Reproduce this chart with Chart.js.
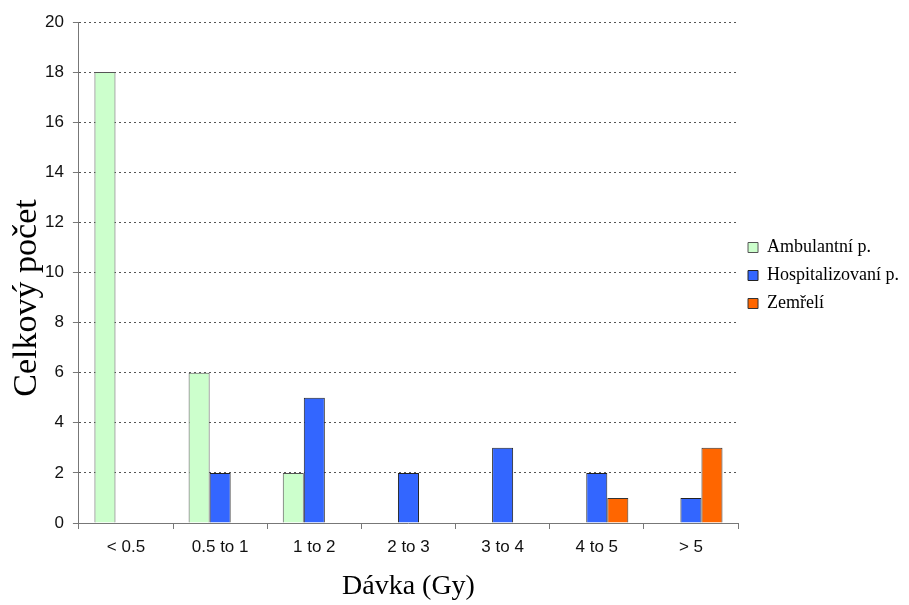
<!DOCTYPE html>
<html>
<head>
<meta charset="utf-8">
<script src="https://cdn.jsdelivr.net/npm/chart.js@4/dist/chart.umd.min.js"></script>
<style>
  html, body { margin: 0; padding: 0; background: #fff; }
  #wrap { width: 909px; height: 605px; }
</style>
</head>
<body>
<div id="wrap"><canvas id="c"></canvas></div>
<script>
const categories = ['< 0.5', '0.5 to 1', '1 to 2', '2 to 3', '3 to 4', '4 to 5', '> 5'];
const ambulantni = [18, 6, 2, 0, 0, 0, 0];
const hospitalizovani = [0, 2, 5, 2, 3, 2, 1];
const zemreli = [0, 0, 0, 0, 0, 1, 3];

// legend sits a bit above the middle in the original
const legendShift = {
  id: 'legendShift',
  afterLayout(chart) {
    chart.legend.top -= 37;
    chart.legend.bottom -= 37;
  }
};

new Chart(document.getElementById('c'), {
  type: 'bar',
  data: {
    labels: categories,
    datasets: [
      { label: 'Ambulantní p.', data: ambulantni, backgroundColor: '#ccffcc', borderColor: '#555', borderWidth: 1 },
      { label: 'Hospitalizovaní p.', data: hospitalizovani, backgroundColor: '#3366ff', borderColor: '#222', borderWidth: 1 },
      { label: 'Zemřelí', data: zemreli, backgroundColor: '#ff6600', borderColor: '#333', borderWidth: 1 }
    ]
  },
  options: {
    responsive: true,
    maintainAspectRatio: false,
    animation: false,
    layout: { padding: { top: 22, right: 0, left: 10, bottom: 2 } },
    datasets: { bar: { categoryPercentage: 0.67, barPercentage: 1 } },
    plugins: {
      tooltip: { enabled: false },
      legend: {
        position: 'right',
        labels: {
          boxWidth: 10, boxHeight: 10, padding: 10, color: '#000',
          font: { family: 'Liberation Serif', size: 18 }
        }
      }
    },
    scales: {
      x: {
        grid: { offset: true, drawOnChartArea: false, drawTicks: true, tickLength: 6, color: '#777' },
        border: { color: '#777', width: 1 },
        ticks: { color: '#111', padding: 8, font: { family: 'Liberation Sans', size: 17 } },
        title: { display: true, text: 'Dávka (Gy)', color: '#000', padding: { top: 4, bottom: 0 }, font: { family: 'Liberation Serif', size: 28 } }
      },
      y: {
        min: 0, max: 20,
        ticks: { stepSize: 2, color: '#111', padding: 9, font: { family: 'Liberation Sans', size: 17 } },
        grid: { color: '#555', lineWidth: 1, tickLength: 6, tickColor: '#777' },
        border: { color: '#777', width: 1, dash: [2, 3] },
        title: { display: true, text: 'Celkový počet      ', color: '#000', padding: { top: 0, bottom: -8 }, font: { family: 'Liberation Serif', size: 34, lineHeight: 1 } }
      }
    }
  },
  plugins: [legendShift]
});
</script>
</body>
</html>
